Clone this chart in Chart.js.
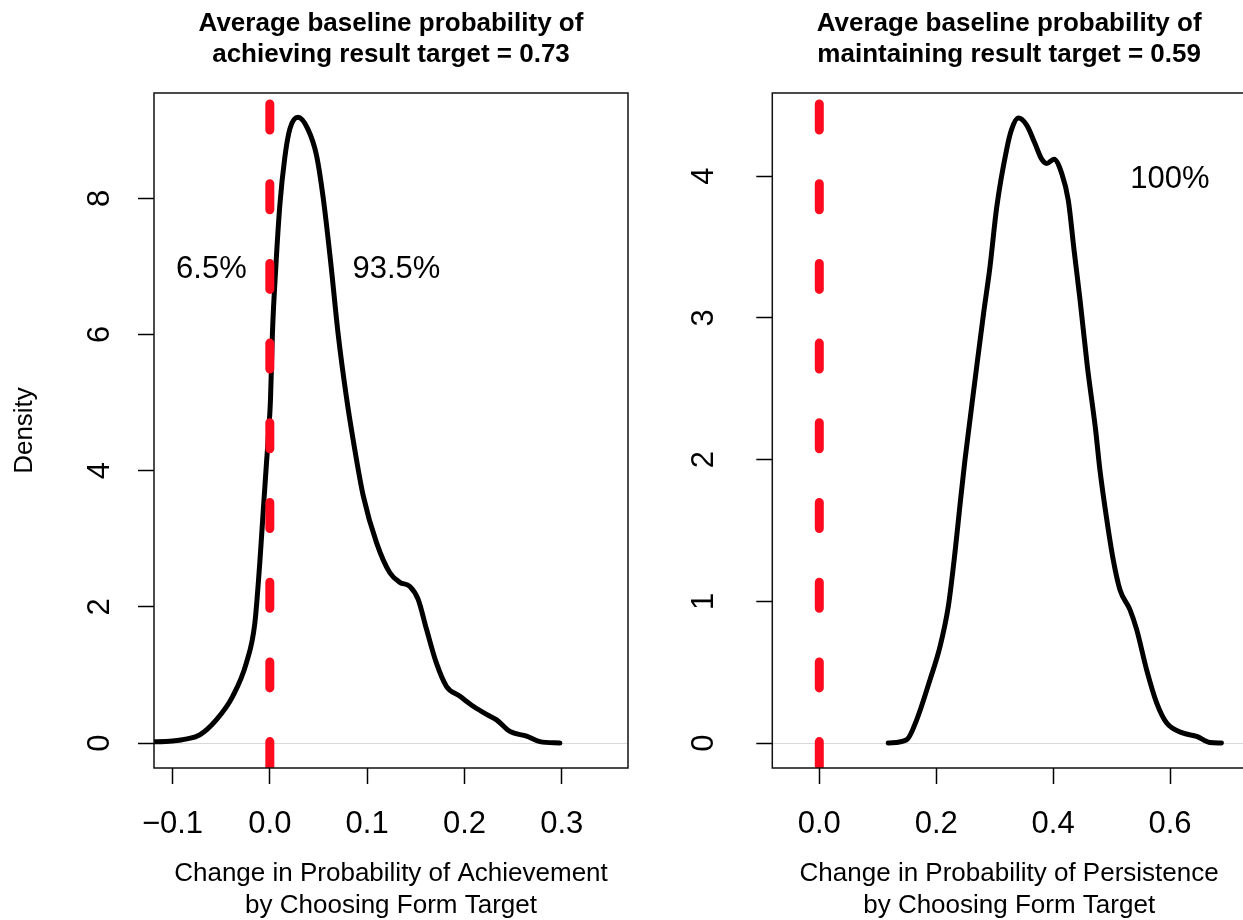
<!DOCTYPE html>
<html>
<head>
<meta charset="utf-8">
<title>Change in probability by choosing form target</title>
<script src="https://cdn.jsdelivr.net/npm/chart.js"></script>
<style>
  html, body { margin: 0; padding: 0; background: #fff; overflow: hidden; }
  body { width: 1243px; height: 920px; position: relative; }
  canvas { position: absolute; top: 0; }
  #left-chart { left: 0; }
  #right-chart { left: 640px; }
</style>
</head>
<body>
<canvas id="left-chart" width="640" height="920"></canvas>
<canvas id="right-chart" width="620" height="920"></canvas>
<script>
// ── Data: left panel (achievement) ───────────────────────────
const achieveX = [-0.125, -0.1, -0.085, -0.072, -0.055, -0.038, -0.024, -0.0154, -0.0103, -0.0069,
  -0.0034, -0.001, 0.0007, 0.0027, 0.0062, 0.0103, 0.0154, 0.0206, 0.029, 0.039, 0.048, 0.055,
  0.063, 0.070, 0.079, 0.086, 0.096, 0.1097, 0.1233, 0.1336, 0.1439, 0.1524, 0.161, 0.171,
  0.1816, 0.195, 0.209, 0.2227, 0.233, 0.2467, 0.2638, 0.2775, 0.298];
const achieveY = [0.015, 0.03, 0.06, 0.12, 0.34, 0.69, 1.18, 1.76, 2.65, 3.38,
  4.12, 4.61, 5.05, 6.03, 7.0, 7.9, 8.6, 9.02, 9.19, 9.02, 8.63, 7.99,
  7.0, 6.03, 5.05, 4.42, 3.63, 2.94, 2.5, 2.36, 2.30, 2.11, 1.67, 1.18,
  0.83, 0.69, 0.54, 0.42, 0.34, 0.17, 0.10, 0.02, 0.0];
const achieveXTicks = [-0.1, 0, 0.1, 0.2, 0.3];
const achieveXLabels = ['\u22120.1', '0.0', '0.1', '0.2', '0.3'];
const achieveYTicks = [0, 2, 4, 6, 8];
const achieveNotes = ['6.5%', '93.5%'];
const achieveNoteX = [-0.06, 0.13];
const achieveNoteY = [7, 7];

// ── Data: right panel (persistence) ──────────────────────────
const persistX = [0.118, 0.1495, 0.1666, 0.1894, 0.2065, 0.2207, 0.232, 0.2407, 0.249, 0.259,
  0.270, 0.281, 0.292, 0.3035, 0.3206, 0.329, 0.3405, 0.3548, 0.369, 0.3805, 0.389, 0.4015,
  0.4147, 0.426, 0.4358, 0.446, 0.4585, 0.4727, 0.480, 0.4917, 0.503, 0.5145, 0.5316, 0.543,
  0.560, 0.5773, 0.5944, 0.6228, 0.6457, 0.668, 0.688];
const persistY = [0.0, 0.023, 0.164, 0.447, 0.68, 0.964, 1.34, 1.68, 1.99, 2.32,
  2.68, 3.03, 3.36, 3.78, 4.19, 4.33, 4.41, 4.36, 4.23, 4.12, 4.09, 4.12,
  4.02, 3.83, 3.48, 3.13, 2.66, 2.21, 1.93, 1.58, 1.29, 1.08, 0.94, 0.80,
  0.517, 0.282, 0.141, 0.07, 0.047, 0.004, 0.0];
const persistXTicks = [0, 0.2, 0.4, 0.6];
const persistXLabels = ['0.0', '0.2', '0.4', '0.6'];
const persistYTicks = [0, 1, 2, 3, 4];
const persistNotes = ['100%'];
const persistNoteX = [0.6];
const persistNoteY = [4];

const FONT = '"Liberation Sans", Arial, Helvetica, sans-serif';

// ── Frame + text labels ──────────────────────────────────────
const framePlugin = {
  id: 'frame',
  afterDatasetsDraw(chart, args, opts) {
    const { ctx, chartArea: a } = chart;
    const x = chart.scales.x, y = chart.scales.y;
    ctx.save();
    ctx.strokeStyle = '#111';
    ctx.lineWidth = 1.5;
    ctx.strokeRect(a.left, a.top, a.right - a.left, a.bottom - a.top);
    ctx.fillStyle = '#000';
    ctx.font = '31px ' + FONT;
    ctx.textAlign = 'center';
    ctx.textBaseline = 'middle';
    opts.labels.forEach((t, i) => {
      ctx.fillText(t, x.getPixelForValue(opts.xs[i]), y.getPixelForValue(opts.ys[i]) + 3);
    });
    ctx.restore();
  }
};

function makePanel(id, p) {
  const curve = p.xs.map((x, i) => ({ x, y: p.ys[i] }));
  return new Chart(document.getElementById(id), {
    type: 'line',
    data: {
      datasets: [
        {
          // red dashed reference line at x = 0
          data: [{ x: 0, y: p.yMax }, { x: 0, y: p.yMin }],
          borderColor: '#ff0a1e',
          borderWidth: 9,
          borderDash: [26, 53.7],
          borderDashOffset: 68.7,
          borderCapStyle: 'round',
          pointRadius: 0,
          tension: 0,
          clip: 0
        },
        {
          data: curve,
          borderColor: '#000',
          borderWidth: 5,
          borderCapStyle: 'round',
          borderJoinStyle: 'round',
          cubicInterpolationMode: 'monotone',
          pointRadius: 0,
          clip: 0
        }
      ]
    },
    options: {
      responsive: false,
      animation: false,
      layout: { padding: { left: 0, right: p.padRight, top: 0, bottom: 0 } },
      scales: {
        x: {
          type: 'linear',
          min: p.xMin,
          max: p.xMax,
          afterBuildTicks: s => { s.ticks = p.xTicks.map(v => ({ value: v })); },
          afterFit: s => { s.height = 152; },
          border: { display: false },
          grid: { drawOnChartArea: false, tickLength: 16, tickColor: '#000', tickWidth: 1.5 },
          ticks: {
            color: '#000',
            padding: 22,
            maxRotation: 0,
            font: { family: FONT, size: 31, lineHeight: 1.2 },
            callback: (v, i) => p.xLabels[i]
          },
          title: {
            display: true,
            text: p.xTitle,
            color: '#000',
            padding: { top: 0, bottom: -1 },
            font: { family: FONT, size: 26, lineHeight: 1.2 }
          }
        },
        y: {
          type: 'linear',
          min: p.yMin,
          max: p.yMax,
          afterBuildTicks: s => { s.ticks = p.yTicks.map(v => ({ value: v })); },
          afterFit: s => { s.width = p.yWidth; },
          border: { display: false },
          grid: {
            color: c => (c.tick && c.tick.value === 0 ? '#d9d9d9' : 'rgba(0,0,0,0)'),
            lineWidth: 1,
            tickLength: 16,
            tickColor: '#000',
            tickWidth: 1.5
          },
          ticks: {
            color: '#000',
            minRotation: 90,
            maxRotation: 90,
            crossAlign: 'center',
            padding: p.yPad,
            font: { family: FONT, size: 31 },
            callback: v => String(v)
          },
          title: {
            display: !!p.yTitle,
            text: p.yTitle || '',
            color: '#000',
            padding: { top: 9, bottom: 0 },
            font: { family: FONT, size: 26, lineHeight: 1.2 }
          }
        }
      },
      plugins: {
        legend: { display: false },
        tooltip: { enabled: false },
        title: {
          display: true,
          text: p.title,
          color: '#000',
          fullSize: false,
          padding: { top: 8.4, bottom: 22.2 },
          font: { family: FONT, size: 26, weight: 'bold', lineHeight: 1.2 }
        },
        frame: { labels: p.notes, xs: p.noteX, ys: p.noteY }
      }
    },
    plugins: [framePlugin]
  });
}

makePanel('left-chart', {
  xs: achieveX, ys: achieveY,
  xMin: -0.119, xMax: 0.368, yMin: -0.367, yMax: 9.547,
  xTicks: achieveXTicks, xLabels: achieveXLabels, yTicks: achieveYTicks,
  notes: achieveNotes, noteX: achieveNoteX, noteY: achieveNoteY,
  title: ['Average baseline probability of', 'achieving result target = 0.73'],
  xTitle: ['Change in Probability of Achievement', 'by Choosing Form Target'],
  yTitle: 'Density',
  yWidth: 154, yPad: 29, padRight: 12
});

makePanel('right-chart', {
  xs: persistX, ys: persistY,
  xMin: -0.0804, xMax: 0.73, yMin: -0.176, yMax: 4.587,
  xTicks: persistXTicks, xLabels: persistXLabels, yTicks: persistYTicks,
  notes: persistNotes, noteX: persistNoteX, noteY: persistNoteY,
  title: ['Average baseline probability of', 'maintaining result target = 0.59'],
  xTitle: ['Change in Probability of Persistence', 'by Choosing Form Target'],
  yTitle: null,
  yWidth: 132.3, yPad: 43, padRight: 14
});
</script>
</body>
</html>
